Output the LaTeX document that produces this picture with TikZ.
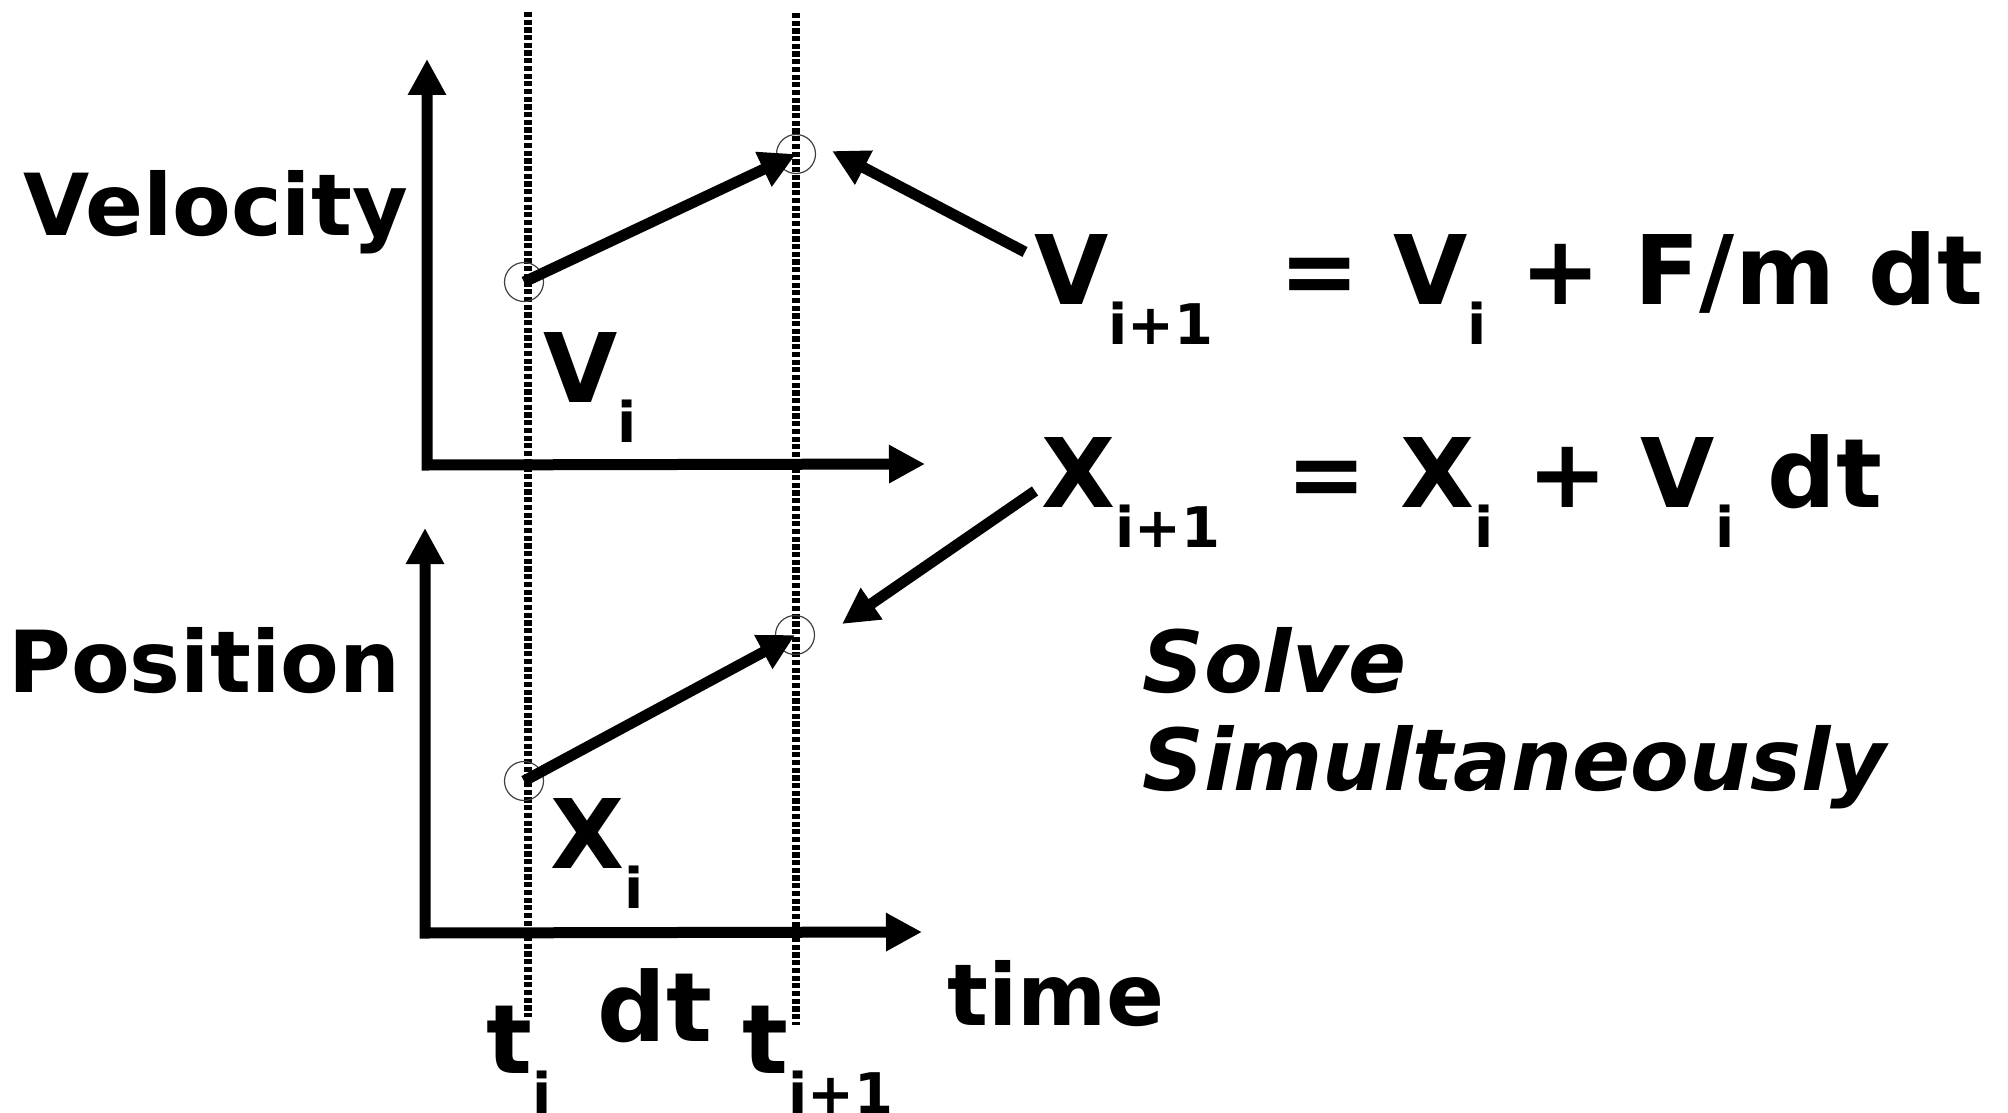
\documentclass[tikz,border=0pt]{standalone}
\usepackage{fontspec}
\setmainfont{DejaVu Sans}
\usetikzlibrary{arrows.meta}
\usetikzlibrary{positioning}

\newcommand{\lowidx}[1]{\raisebox{-20pt}{\fontsize{28pt}{28pt}\selectfont #1}}

\begin{document}
\begin{tikzpicture}[
  x=0.5pt, y=-0.5pt,
  axis/.style={line width=5.5pt, line join=miter, {Triangle[length=18pt,width=18pt]}-{Triangle[length=18pt,width=18pt]}},
  arr/.style={line width=5.5pt, -{Triangle[length=18pt,width=18pt]}},
  timeline/.style={line width=3.8pt, dash pattern=on 2.6pt off 1.25pt},
  dot/.style={draw=black!75, line width=0.6pt, circle, minimum size=19.5pt, inner sep=0pt},
  lbl/.style={font=\fontsize{42.8pt}{42.8pt}\selectfont\bfseries, inner sep=0pt, anchor=base west},
  sym/.style={font=\fontsize{48pt}{48pt}\selectfont\bfseries, inner sep=0pt, anchor=base west}
]
\useasboundingbox (0,0) rectangle (2008,1113);

% time lines
\coordinate (ta) at (528,12);
\coordinate (tb) at (528,1017);
\coordinate (tc) at (796,13);
\coordinate (td) at (796,1025);
\draw[timeline] (ta) -- (tb);
\draw[timeline] (tc) -- (td);

% axes
\coordinate (vtop) at (427,59);
\coordinate (vo) at (427,465);
\coordinate (vend) at (925,464);
\coordinate (ptop) at (425,528);
\coordinate (po) at (425,933);
\coordinate (pend) at (922,932);
\draw[axis] (vtop) -- (vo) -- (vend);
\draw[axis] (ptop) -- (po) -- (pend);

% sample points
\node[dot] (c1) at (524,282) {};
\node[dot] (c2) at (796,154) {};
\node[dot] (c3) at (524,781) {};
\node[dot] (c4) at (795,635) {};

\draw[arr] (c1.center) -- (c2.center);
\draw[arr] (c3.center) -- (c4.center);

% labels
\node[lbl] (vel) at (23,235) {Velocity};
\node[lbl] (pos) at (8,692) {Position};
\node[lbl] (time) at (947,1025) {time};
\node[lbl, font=\fontsize{42.8pt}{42.8pt}\selectfont\bfseries\itshape] (solve) at (1142,692) {Solve};
\node[lbl, font=\fontsize{42.8pt}{42.8pt}\selectfont\bfseries\itshape] (simul) at ([yshift=-49pt]solve.base west) {Simultaneously};

\node[sym] (vi) at (543,402) {V\lowidx{i}};
\node[sym] (xi) at (550,868) {X\lowidx{i}};
\node[sym] (ti) at (486,1073) {t\lowidx{i}};
\node[sym] (dt) at (597,1041) {dt};
\node[sym] (tj) at (742,1073) {t\lowidx{i+1}};

% update rules
\node[sym] (eqv) at (1034,304) {V\lowidx{i+1}\hspace{33pt}= V\lowidx{i} + F/m dt};
\node[sym] (eqx) at (1041,507) {X\lowidx{i+1}\hspace{33pt}= X\lowidx{i} + V\lowidx{i} dt};

\coordinate (vtail) at (1025,252);
\coordinate (vhead) at (832,151);
\coordinate (xtail) at (1035,491);
\coordinate (xhead) at (842,624);
\draw[arr] (vtail) -- (vhead);
\draw[arr] (xtail) -- (xhead);
\end{tikzpicture}
\end{document}
